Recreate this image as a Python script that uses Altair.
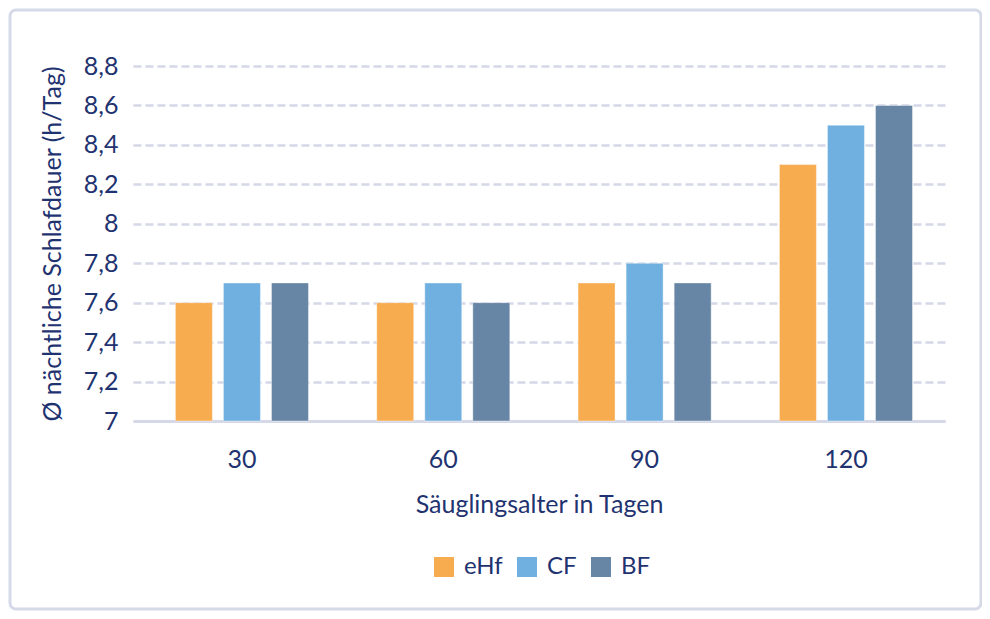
import altair as alt
import pandas as pd

ages = ["30", "60", "90", "120"]
groups = ["eHf", "CF", "BF"]
ehf = [7.6, 7.6, 7.7, 8.3]
cf = [7.7, 7.7, 7.8, 8.5]
bf = [7.7, 7.6, 7.7, 8.6]
colors = ["#F7AC50", "#70B0E0", "#6785A5"]
y_ticks = [7, 7.2, 7.4, 7.6, 7.8, 8, 8.2, 8.4, 8.6, 8.8]

rows = []
for i, a in enumerate(ages):
    for g, vals in zip(groups, [ehf, cf, bf]):
        rows.append({"age": a, "group": g, "value": vals[i]})
df = pd.DataFrame(rows)

TEXT = "#1F3370"
GRID = "#D5D8E6"
FONT = "Lato"

W, H = 812, 355

bars = alt.Chart(df).mark_bar(stroke="white", strokeWidth=0.8, strokeOpacity=0.5).encode(
    x=alt.X("age:N", sort=ages,
            scale=alt.Scale(paddingInner=0.339, paddingOuter=0.186, align=0.566),
            axis=alt.Axis(title="Säuglingsalter in Tagen", labelAngle=0, ticks=False,
                          labelFontSize=25, labelPadding=26, titleFontSize=25,
                          titlePadding=20, domainColor=GRID, domainWidth=3,
                          labelColor=TEXT, titleColor=TEXT, labelFont=FONT,
                          titleFont=FONT, titleFontWeight="normal", grid=False)),
    xOffset=alt.XOffset("group:N", sort=groups,
                        scale=alt.Scale(paddingInner=0.23, paddingOuter=0)),
    y=alt.Y("value:Q",
            scale=alt.Scale(domain=[7, 8.8], zero=False, nice=False),
            axis=alt.Axis(title="Ø nächtliche Schlafdauer (h/Tag)", values=y_ticks,
                          labelExpr="replace(toString(round(datum.value*10)/10), '.', ',')",
                          ticks=False, domain=False, labelFontSize=25, labelPadding=15,
                          titleFontSize=25, titlePadding=18, labelColor=TEXT,
                          titleColor=TEXT, labelFont=FONT, titleFont=FONT,
                          titleFontWeight="normal", gridColor=GRID, gridWidth=2.5,
                          gridDash=[8, 4])),
    y2=alt.datum(7),
    color=alt.Color("group:N", sort=groups,
                    scale=alt.Scale(domain=groups, range=colors),
                    legend=alt.Legend(title=None, orient="none", legendX=299, legendY=489,
                                      direction="horizontal", symbolType="square",
                                      symbolSize=400, symbolStrokeWidth=0,
                                      labelFontSize=24, labelColor=TEXT, labelFont=FONT,
                                      columnPadding=12, labelOffset=8)),
)

frame_df = pd.DataFrame({"k": [1]})
frame = alt.Chart(frame_df).mark_rect(fill=None, stroke="#D5D9E8", strokeWidth=3,
                                      cornerRadius=6).encode(
    x=alt.value(-123), x2=alt.value(W + 36),
    y=alt.value(-56), y2=alt.value(H + 188),
)

chart = alt.layer(frame, bars).properties(
    width=W, height=H,
    autosize=alt.AutoSizeParams(type="none"),
    padding={"left": 125, "top": 58, "right": 37, "bottom": 190},
).configure(background="white", view=alt.ViewConfig(stroke=None))

chart.save("out.html", embed_options={"renderer": "svg", "actions": False})
